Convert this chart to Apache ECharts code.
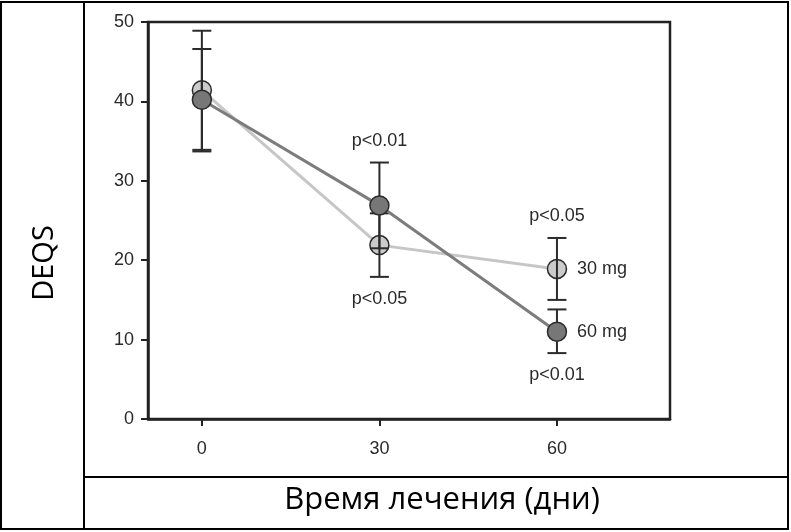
<!DOCTYPE html>
<html>
<head>
<meta charset="utf-8">
<script src="https://cdn.jsdelivr.net/npm/echarts@6/dist/echarts.min.js"></script>
<style>
  html, body { margin: 0; padding: 0; background: #fff; }
  #main { width: 791px; height: 532px; }
</style>
</head>
<body>
<div id="main"></div>
<script>
// дни лечения
const days = [0, 30, 60];
const xTicks = [0, 30, 60];
const yTicks = [0, 10, 20, 30, 40, 50];

// 30 mg
const mean30 = [41.4, 21.9, 18.9];
const high30 = [48.9, 25.9, 22.8];
const low30 = [33.9, 17.9, 15.0];

// 60 mg
const mean60 = [40.2, 26.9, 11.0];
const high60 = [46.6, 32.3, 13.8];
const low60 = [33.7, 21.5, 8.3];

// p-значения над и под точками
const pTop = ['', 'p<0.01', 'p<0.05'];
const pBottom = ['', 'p<0.05', 'p<0.01'];

const txt = '#2a2a2a';
const axisCol = '#222';
const lineBlack = '#000';

let myChart = echarts.init(document.getElementById('main'));

function pairs(ys) {
  return days.map((d, i) => [d, ys[i]]);
}

// усы ошибок
const errData = [];
days.forEach((d, i) => {
  errData.push([d, low30[i], high30[i]]);
  errData.push([d, low60[i], high60[i]]);
});

function renderErr(params, api) {
  const x = api.value(0);
  const lo = api.coord([x, api.value(1)]);
  const hi = api.coord([x, api.value(2)]);
  const w = 9.5;
  const style = { stroke: '#2b2b2b', lineWidth: 2 };
  return {
    type: 'group',
    children: [
      { type: 'line', shape: { x1: hi[0], y1: hi[1], x2: lo[0], y2: lo[1] }, style },
      { type: 'line', shape: { x1: hi[0] - w, y1: hi[1], x2: hi[0] + w, y2: hi[1] }, style },
      { type: 'line', shape: { x1: lo[0] - w, y1: lo[1], x2: lo[0] + w, y2: lo[1] }, style }
    ]
  };
}

// точки привязки подписей p
const topAnchor = days.map((d, i) => ({
  value: [d, Math.max(high30[i], high60[i])],
  label: { show: pTop[i] !== '', formatter: pTop[i] }
}));
const bottomAnchor = days.map((d, i) => ({
  value: [d, Math.min(low30[i], low60[i])],
  label: { show: pBottom[i] !== '', formatter: pBottom[i] }
}));

const pFont = { color: txt, fontSize: 18, fontFamily: 'Liberation Sans, Arial, sans-serif' };

myChart.setOption({
  animation: false,
  grid: {
    left: 148, right: 121, top: 22, bottom: 113,
    show: true, borderColor: axisCol, borderWidth: 2.5
  },
  xAxis: {
    type: 'value',
    min: -9.1,
    max: 79.1,
    splitLine: { show: false },
    axisLine: { onZero: false, lineStyle: { color: axisCol, width: 2.5 } },
    axisTick: { customValues: xTicks, length: 7, lineStyle: { color: axisCol, width: 2 } },
    axisLabel: Object.assign({ customValues: xTicks, margin: 21 }, pFont)
  },
  yAxis: {
    type: 'value',
    min: 0,
    max: 50,
    interval: 10,
    splitLine: { show: false },
    axisLine: { show: true, onZero: false, lineStyle: { color: axisCol, width: 2.5 } },
    axisTick: { show: true, length: 7, lineStyle: { color: axisCol, width: 2 } },
    axisLabel: Object.assign({ margin: 14, formatter: v => yTicks.includes(v) ? String(v) : '' }, pFont)
  },
  series: [
    {
      name: '30 mg',
      type: 'line',
      data: pairs(mean30),
      symbol: 'circle',
      symbolSize: 19,
      lineStyle: { color: '#c6c6c6', width: 3 },
      itemStyle: { color: '#cbcbcb', borderColor: '#2b2b2b', borderWidth: 1.5 },
      endLabel: Object.assign({ show: true, formatter: '{a}', distance: 20 }, pFont),
      z: 2
    },
    {
      type: 'custom',
      data: errData,
      renderItem: renderErr,
      z: 3
    },
    {
      name: '60 mg',
      type: 'line',
      data: pairs(mean60),
      symbol: 'circle',
      symbolSize: 19,
      lineStyle: { color: '#7c7c7c', width: 3 },
      itemStyle: { color: '#777', borderColor: '#2b2b2b', borderWidth: 1.5 },
      endLabel: Object.assign({ show: true, formatter: '{a}', distance: 20 }, pFont),
      z: 4
    },
    {
      type: 'scatter',
      data: topAnchor,
      symbolSize: 0,
      itemStyle: { opacity: 1 },
      label: Object.assign({ position: 'top', distance: 13 }, pFont),
      z: 5
    },
    {
      type: 'scatter',
      data: bottomAnchor,
      symbolSize: 0,
      itemStyle: { opacity: 1 },
      label: Object.assign({ position: 'bottom', distance: 13 }, pFont),
      z: 5
    }
  ],
  graphic: [
    { type: 'rect', shape: { x: 1, y: 2, width: 787, height: 527 }, style: { fill: 'none', stroke: lineBlack, lineWidth: 2 }, z: 10 },
    { type: 'line', shape: { x1: 84, y1: 2, x2: 84, y2: 529 }, style: { stroke: lineBlack, lineWidth: 2 }, z: 10 },
    { type: 'line', shape: { x1: 84, y1: 477, x2: 788, y2: 477 }, style: { stroke: lineBlack, lineWidth: 2 }, z: 10 },
    {
      type: 'text', x: 45, y: 263, rotation: Math.PI / 2,
      style: { text: 'DEQS', fill: '#000', font: '29px "Open Sans", sans-serif', textAlign: 'center', textVerticalAlign: 'middle' }
    },
    {
      type: 'text', x: 442, y: 500,
      style: { text: 'Время лечения (дни)', fill: '#000', font: '31px "Open Sans", sans-serif', textAlign: 'center', textVerticalAlign: 'middle' }
    }
  ]
});
window.onresize = function () {
  myChart.resize();
};
</script>
</body>
</html>
